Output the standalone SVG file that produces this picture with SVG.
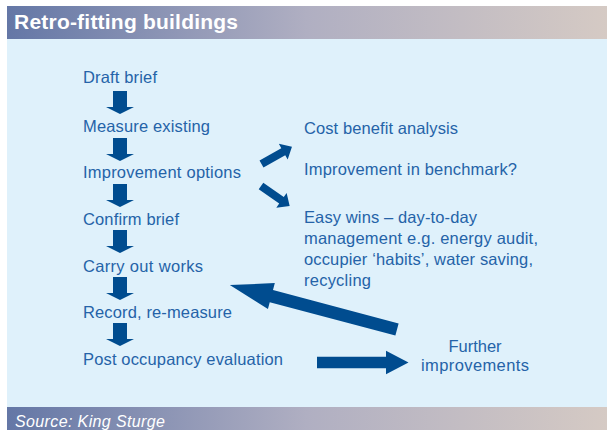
<svg xmlns="http://www.w3.org/2000/svg" xmlns:xlink="http://www.w3.org/1999/xlink" width="607" height="430" viewBox="0 0 607 430">
  <style>
    .step { font-family: "Liberation Sans", Arial, sans-serif; font-size: 16.5px; fill: #2563a8; }
    .title { font-family: "Liberation Sans", Arial, sans-serif; font-size: 21px; font-weight: bold; fill: #ffffff; }
    .source { font-family: "Liberation Sans", Arial, sans-serif; font-size: 16px; font-style: italic; fill: #ffffff; }
    .arrow { fill: #004c8f; }
  </style>
  <defs>
    <linearGradient id="band" x1="7" y1="0" x2="607" y2="0" gradientUnits="userSpaceOnUse">
      <stop offset="0" stop-color="#6477a6"/>
      <stop offset="0.5" stop-color="#b0afc2"/>
      <stop offset="1" stop-color="#d5cac4"/>
    </linearGradient>
    <!-- downward block arrow between steps, top-centre at origin -->
    <polygon id="down" points="-7,0 7,0 7,16 14,16 0,23 -14,16 -7,16"/>
    <!-- short block arrow pointing along +x, tail at origin -->
    <polygon id="short" points="0,-4 25,-4 25,-9 35,0 25,9 25,4 0,4"/>
  </defs>

  <!-- panel -->
  <rect x="7" y="6" width="600" height="33" fill="url(#band)"/>
  <rect x="7" y="39" width="600" height="368" fill="#dff1fb"/>
  <rect x="7" y="407" width="600" height="23" fill="url(#band)"/>
  <text class="title" x="14" y="29" textLength="224">Retro-fitting buildings</text>
  <text class="source" x="15" y="427" textLength="150">Source: King Sturge</text>

  <!-- process steps -->
  <g id="draft-brief"><text class="step" x="83" y="83" textLength="74">Draft brief</text></g>
  <g id="measure-existing"><text class="step" x="83" y="132" textLength="127">Measure existing</text></g>
  <g id="improvement-options"><text class="step" x="83" y="178" textLength="158">Improvement options</text></g>
  <g id="confirm-brief"><text class="step" x="83" y="225" textLength="96">Confirm brief</text></g>
  <g id="carry-out-works"><text class="step" x="83" y="272" textLength="120">Carry out works</text></g>
  <g id="record"><text class="step" x="83" y="318" textLength="149">Record, re-measure</text></g>
  <g id="post-occupancy"><text class="step" x="83" y="365" textLength="200">Post occupancy evaluation</text></g>

  <!-- option notes -->
  <g id="cost-benefit"><text class="step" x="304" y="134" textLength="154">Cost benefit analysis</text></g>
  <g id="benchmark"><text class="step" x="304" y="175" textLength="213">Improvement in benchmark?</text></g>
  <g id="easy-wins">
    <text class="step" x="304" y="223" textLength="173">Easy wins – day-to-day</text>
    <text class="step" x="304" y="244" textLength="234">management e.g. energy audit,</text>
    <text class="step" x="304" y="265" textLength="229">occupier ‘habits’, water saving,</text>
    <text class="step" x="304" y="286" textLength="67">recycling</text>
  </g>
  <g id="further-improvements">
    <text class="step" x="475" y="352" text-anchor="middle">Further</text>
    <text class="step" x="475" y="371" text-anchor="middle" textLength="108">improvements</text>
  </g>

  <!-- connectors -->
  <g id="connectors" class="arrow">
    <use xlink:href="#down" x="120" y="91"/>
    <use xlink:href="#down" x="120" y="138"/>
    <use xlink:href="#down" x="120" y="184"/>
    <use xlink:href="#down" x="120" y="230"/>
    <use xlink:href="#down" x="120" y="277"/>
    <use xlink:href="#down" x="120" y="323"/>
    <use xlink:href="#short" transform="translate(261.5,164) rotate(-29.5)"/>
    <use xlink:href="#short" transform="translate(261,186) rotate(35)"/>
    <polygon transform="translate(397,329.5) rotate(194.9)" points="0,-6.3 130,-6.3 130,-13.4 173,0 130,13.4 130,6.3 0,6.3"/>
    <polygon points="317,356.7 386,356.7 386,350.7 408.5,362.5 386,374.3 386,368.3 317,368.3"/>
  </g>
</svg>
